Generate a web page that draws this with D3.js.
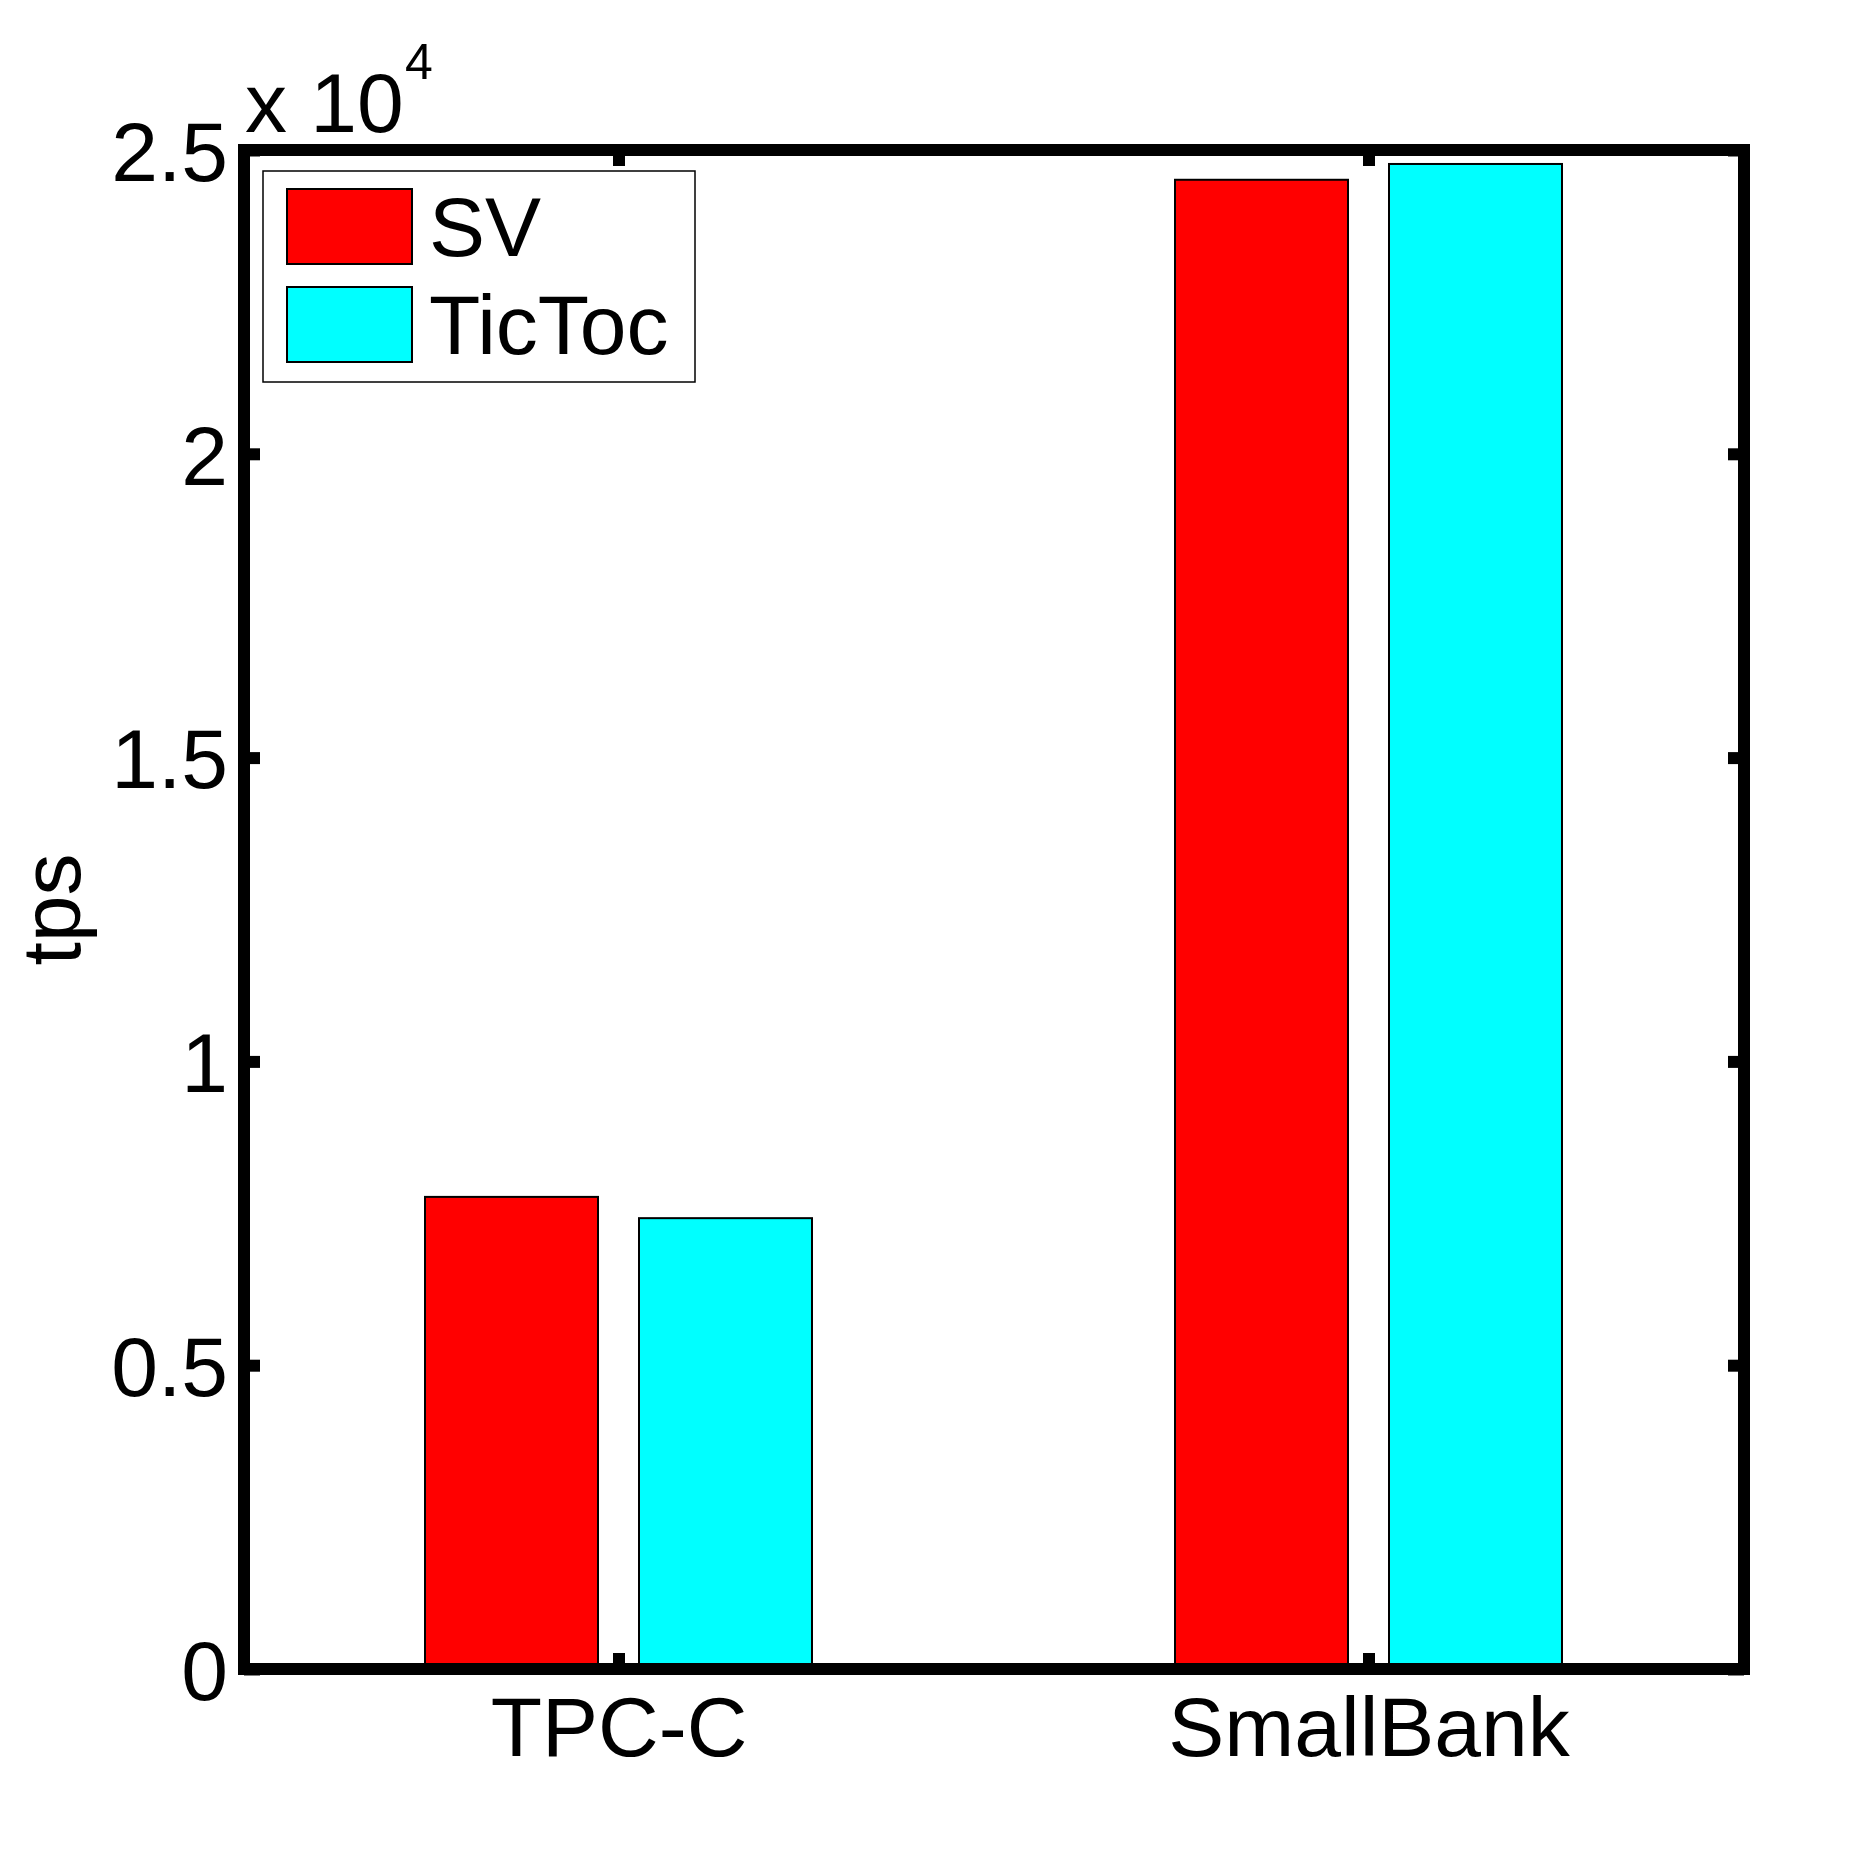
<!DOCTYPE html>
<html>
<head>
<meta charset="utf-8">
<script src="https://cdn.jsdelivr.net/npm/d3@7"></script>
<style>
  html, body { margin: 0; padding: 0; background: #fff; }
  svg text { font-family: "Liberation Sans", Arial, Helvetica, sans-serif; fill: #000; }
</style>
</head>
<body>
<svg id="chart" width="1875" height="1875"></svg>
<script>
const categories = ["TPC-C", "SmallBank"];
const seriesNames = ["SV", "TicToc"];
const seriesColors = ["#ff0000", "#00ffff"];
const svValues = [7770, 24510];
const tictocValues = [7420, 24770];
const yTickValues = [0, 5000, 10000, 15000, 20000, 25000];
const yTickLabels = ["0", "0.5", "1", "1.5", "2", "2.5"];
const yAxisLabel = "tps";
const exponentBase = "x 10";
const exponentPower = "4";

const seriesValues = [svValues, tictocValues];

const svg = d3.select("#chart");
const axLeft = 244, axRight = 1744, axTop = 150, axBottom = 1669;
const fontSize = 84;
const axisW = 12;
const tickLen = 16;

const x = d3.scaleBand().domain(categories).range([axLeft, axRight]).padding(0);
const xInner = d3.scaleBand().domain(seriesNames).range([181, 568]).paddingInner(0.1916).paddingOuter(0);
const y = d3.scaleLinear().domain([0, 25000]).range([axBottom, axTop]);

// bars
const groups = svg.append("g").selectAll("g")
  .data(categories)
  .join("g")
  .attr("transform", d => `translate(${x(d)},0)`);

groups.selectAll("rect")
  .data((c, ci) => seriesNames.map((s, si) => ({ s, si, v: seriesValues[si][ci] })))
  .join("rect")
  .attr("x", d => xInner(d.s))
  .attr("width", xInner.bandwidth())
  .attr("y", d => y(d.v))
  .attr("height", d => y(0) - y(d.v))
  .attr("fill", d => seriesColors[d.si])
  .attr("stroke", "#000")
  .attr("stroke-width", 2);

// axes
function styleAxis(g) {
  g.select(".domain").remove();
  g.selectAll(".tick line").attr("stroke", "#000").attr("stroke-width", axisW);
  g.selectAll(".tick text").attr("font-size", fontSize).attr("font-family", null);
  g.attr("font-family", null);
}

const yFmt = (d) => yTickLabels[yTickValues.indexOf(d)];

svg.append("g")
  .attr("transform", `translate(${axLeft},0)`)
  .call(d3.axisLeft(y).tickValues(yTickValues).tickFormat(yFmt).tickSizeInner(-tickLen).tickSizeOuter(0).tickPadding(16))
  .call(styleAxis)
  .call(g => g.selectAll(".tick text").attr("dy", "0.36em"));

svg.append("g")
  .attr("transform", `translate(${axRight},0)`)
  .call(d3.axisRight(y).tickValues(yTickValues).tickFormat("").tickSizeInner(-tickLen).tickSizeOuter(0))
  .call(styleAxis);

svg.append("g")
  .attr("transform", `translate(0,${axBottom})`)
  .call(d3.axisBottom(x).tickSizeInner(-tickLen).tickSizeOuter(0).tickPadding(27))
  .call(styleAxis);

svg.append("g")
  .attr("transform", `translate(0,${axTop})`)
  .call(d3.axisTop(x).tickFormat("").tickSizeInner(-tickLen).tickSizeOuter(0))
  .call(styleAxis);

// frame
svg.append("rect")
  .attr("x", axLeft).attr("y", axTop)
  .attr("width", axRight - axLeft).attr("height", axBottom - axTop)
  .attr("fill", "none").attr("stroke", "#000").attr("stroke-width", axisW);

// exponent label
svg.append("text")
  .attr("x", 245).attr("y", 132)
  .attr("font-size", fontSize)
  .text(exponentBase);
svg.append("text")
  .attr("x", 405).attr("y", 79)
  .attr("font-size", 50)
  .text(exponentPower);

// y axis label
svg.append("text")
  .attr("transform", `translate(80,${(axTop + axBottom) / 2}) rotate(-90)`)
  .attr("text-anchor", "middle")
  .attr("font-size", fontSize)
  .text(yAxisLabel);

// legend
const legend = svg.append("g");
legend.append("rect")
  .attr("x", 263).attr("y", 171).attr("width", 432).attr("height", 211)
  .attr("fill", "#fff").attr("stroke", "#000").attr("stroke-width", 1.5);
const legY = d3.scalePoint().domain(seriesNames).range([189, 287]);
const items = legend.selectAll("g.item").data(seriesNames).join("g").attr("class", "item");
items.append("rect")
  .attr("x", 287).attr("y", d => legY(d))
  .attr("width", 125).attr("height", 75)
  .attr("fill", (d, i) => seriesColors[i])
  .attr("stroke", "#000").attr("stroke-width", 2);
items.append("text")
  .attr("x", 429).attr("y", d => legY(d) + 67)
  .attr("font-size", fontSize)
  .text(d => d);
</script>
</body>
</html>
